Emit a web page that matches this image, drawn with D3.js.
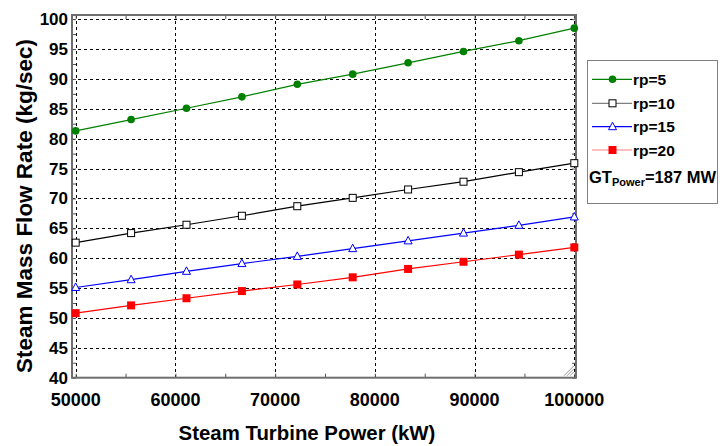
<!DOCTYPE html>
<html>
<head>
<meta charset="utf-8">
<script src="https://cdn.jsdelivr.net/npm/d3@7"></script>
<style>
  body { margin: 0; background: #fff; }
  svg { display: block; font-family: "Liberation Sans", Arial, sans-serif; font-weight: bold; }
</style>
</head>
<body>
<svg width="725" height="446"></svg>
<script>
// steam turbine power (kW), 10 points
const powers = [50000, 55556, 61111, 66667, 72222, 77778, 83333, 88889, 94444, 100000]
const rp5 = [81.3, 83.2, 85.1, 87.0, 89.1, 90.8, 92.7, 94.6, 96.4, 98.5]
const rp10 = [62.6, 64.2, 65.6, 67.1, 68.7, 70.1, 71.5, 72.8, 74.4, 75.9]
const rp15 = [55.1, 56.4, 57.8, 59.1, 60.3, 61.6, 62.9, 64.2, 65.5, 66.9]
const rp20 = [50.8, 52.1, 53.3, 54.5, 55.6, 56.8, 58.2, 59.4, 60.6, 61.8]
const seriesNames = ["rp=5", "rp=10", "rp=15", "rp=20"]
const xTicks = [50000, 60000, 70000, 80000, 90000, 100000]
const yTicks = [40, 45, 50, 55, 60, 65, 70, 75, 80, 85, 90, 95, 100]

const series = [
  { name: seriesNames[0], values: rp5, color: "#008000", legendColor: "#008000", marker: "circle" },
  { name: seriesNames[1], values: rp10, color: "#000000", legendColor: "#808080", marker: "square" },
  { name: seriesNames[2], values: rp15, color: "#0000ff", legendColor: "#0000ff", marker: "triangle" },
  { name: seriesNames[3], values: rp20, color: "#ff0000", legendColor: "#ff8080", marker: "filledSquare" }
]

const svg = d3.select("svg")
const pLeft = 72, pRight = 576, pTop = 15, pBottom = 377.7

const x = d3.scaleLinear().domain([49630, 100170]).range([pLeft, pRight])
const y = d3.scaleLinear().domain([40, 100.7]).range([pBottom, pTop])

// grid
const grid = svg.append("g")
  .attr("stroke", "#000")
  .attr("stroke-width", 1)
  .attr("stroke-dasharray", "3,3")
grid.selectAll(".gx")
  .data(xTicks)
  .enter()
  .append("line")
  .attr("x1", d => Math.round(x(d)) + 0.5)
  .attr("x2", d => Math.round(x(d)) + 0.5)
  .attr("y1", pTop)
  .attr("y2", pBottom)
grid.selectAll(".gy")
  .data(yTicks.slice(1))
  .enter()
  .append("line")
  .attr("x1", pLeft)
  .attr("x2", pRight)
  .attr("y1", d => Math.round(y(d)) + 0.5)
  .attr("y2", d => Math.round(y(d)) + 0.5)

// inside tick marks
const xMinor = d3.range(50000, 100001, 5000)
const yMinor = d3.range(40, 100.1, 2.5)
svg.append("g")
  .call(d3.axisTop(x).tickValues(xMinor).tickSize(4).tickFormat(""))
  .attr("transform", "translate(0," + pBottom + ")")
  .call(g => g.select(".domain").remove())
  .attr("color", "#555")
svg.append("g")
  .call(d3.axisBottom(x).tickValues(xMinor).tickSize(4).tickFormat(""))
  .attr("transform", "translate(0," + pTop + ")")
  .call(g => g.select(".domain").remove())
  .attr("color", "#555")
svg.append("g")
  .call(d3.axisRight(y).tickValues(yMinor).tickSize(4).tickFormat(""))
  .attr("transform", "translate(" + pLeft + ",0)")
  .call(g => g.select(".domain").remove())
  .attr("color", "#555")
svg.append("g")
  .call(d3.axisLeft(y).tickValues(yMinor).tickSize(4).tickFormat(""))
  .attr("transform", "translate(" + pRight + ",0)")
  .call(g => g.select(".domain").remove())
  .attr("color", "#555")

// frame
svg.append("rect")
  .attr("x", pLeft)
  .attr("y", pTop)
  .attr("width", pRight - pLeft)
  .attr("height", pBottom - pTop)
  .attr("fill", "none")
  .attr("stroke", "#6e6e6e")
  .attr("stroke-width", 2)

// resize grip
svg.append("g")
  .attr("stroke", "#999")
  .selectAll("line")
  .data([10, 7, 4])
  .enter()
  .append("line")
  .attr("x1", d => pRight - 2 - d)
  .attr("y1", pBottom - 2)
  .attr("x2", pRight - 2)
  .attr("y2", d => pBottom - 2 - d)

// tick labels
svg.append("g")
  .selectAll("text")
  .data(xTicks)
  .enter()
  .append("text")
  .attr("x", d => x(d))
  .attr("y", 406)
  .attr("text-anchor", "middle")
  .attr("font-size", 18)
  .text(d => d)
svg.append("g")
  .selectAll("text")
  .data(yTicks)
  .enter()
  .append("text")
  .attr("x", 68)
  .attr("y", d => y(d) + 6)
  .attr("text-anchor", "end")
  .attr("font-size", 17)
  .text(d => d)

// axis titles
svg.append("text")
  .attr("x", 307)
  .attr("y", 440)
  .attr("text-anchor", "middle")
  .attr("font-size", 20.4)
  .text("Steam Turbine Power (kW)")
svg.append("text")
  .attr("transform", "translate(32,206) rotate(-90)")
  .attr("text-anchor", "middle")
  .attr("font-size", 22.5)
  .text("Steam Mass Flow Rate (kg/sec)")

function drawMarker(g, type, color) {
  if (type == "circle")
    g.append("circle").attr("r", 3.8).attr("fill", color)
  else if (type == "square")
    g.append("rect").attr("x", -3.5).attr("y", -3.5).attr("width", 7).attr("height", 7)
      .attr("fill", "#fff").attr("stroke", color).attr("stroke-width", 1)
  else if (type == "triangle")
    g.append("path").attr("d", "M0,-4.5L4,3L-4,3Z")
      .attr("fill", "#fff").attr("stroke", color).attr("stroke-width", 1)
  else
    g.append("rect").attr("x", -4).attr("y", -4).attr("width", 8).attr("height", 8)
      .attr("fill", color)
}

const line = d3.line()
  .x((d, i) => x(powers[i]))
  .y(d => y(d))

series.forEach(s => {
  svg.append("path")
    .attr("d", line(s.values))
    .attr("fill", "none")
    .attr("stroke", s.color)
    .attr("stroke-width", 1.2)
  svg.append("g")
    .selectAll("g")
    .data(s.values)
    .enter()
    .append("g")
    .attr("transform", (d, i) => "translate(" + x(powers[i]) + "," + y(d) + ")")
    .each(function () { drawMarker(d3.select(this), s.marker, s.color) })
})

// legend
const legend = svg.append("g")
legend.append("rect")
  .attr("x", 587.5)
  .attr("y", 60.5)
  .attr("width", 130)
  .attr("height", 143)
  .attr("fill", "#fff")
  .attr("stroke", "#808080")
  .attr("stroke-width", 1)

const legendY = [79.3, 103.3, 126.7, 150]
series.forEach((s, i) => {
  const item = legend.append("g").attr("transform", "translate(0," + legendY[i] + ")")
  item.append("line")
    .attr("x1", 592)
    .attr("x2", 632)
    .attr("stroke", s.legendColor)
    .attr("stroke-width", 1.2)
  drawMarker(item.append("g").attr("transform", "translate(612.5,0)"), s.marker, s.color)
  item.append("text")
    .attr("x", 633)
    .attr("y", 5.5)
    .attr("font-size", 15.5)
    .text(s.name)
})
const gt = legend.append("text")
  .attr("x", 589)
  .attr("y", 183)
  .attr("font-size", 16.5)
gt.append("tspan").text("GT")
gt.append("tspan").attr("font-size", 11).attr("dy", 3).text("Power")
gt.append("tspan").attr("dy", -3).text("=187 MW")
</script>
</body>
</html>
